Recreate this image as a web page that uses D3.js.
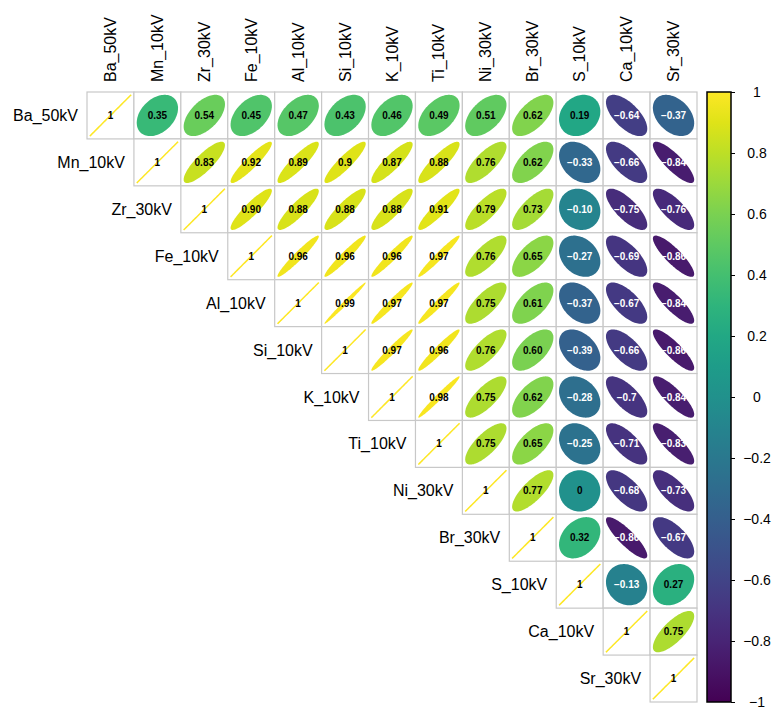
<!DOCTYPE html>
<html>
<head>
<meta charset="utf-8">
<script src="https://cdn.jsdelivr.net/npm/d3@7/dist/d3.min.js"></script>
<style>
  html, body { margin: 0; padding: 0; background: #ffffff; }
  svg { display: block; font-family: "Liberation Sans", Arial, sans-serif; }
</style>
</head>
<body>
<svg id="chart" width="772" height="707"></svg>
<script>
// Variables (rows and columns of the correlation matrix)
const variables = ["Ba_50kV", "Mn_10kV", "Zr_30kV", "Fe_10kV", "Al_10kV", "Si_10kV",
  "K_10kV", "Ti_10kV", "Ni_30kV", "Br_30kV", "S_10kV", "Ca_10kV", "Sr_30kV"];

// Upper-triangle correlations, one array per row, starting at the diagonal
const rowBa = ["1", "0.35", "0.54", "0.45", "0.47", "0.43", "0.46", "0.49", "0.51", "0.62", "0.19", "-0.64", "-0.37"];
const rowMn = ["1", "0.83", "0.92", "0.89", "0.9", "0.87", "0.88", "0.76", "0.62", "-0.33", "-0.66", "-0.84"];
const rowZr = ["1", "0.90", "0.88", "0.88", "0.88", "0.91", "0.79", "0.73", "-0.10", "-0.75", "-0.76"];
const rowFe = ["1", "0.96", "0.96", "0.96", "0.97", "0.76", "0.65", "-0.27", "-0.69", "-0.86"];
const rowAl = ["1", "0.99", "0.97", "0.97", "0.75", "0.61", "-0.37", "-0.67", "-0.84"];
const rowSi = ["1", "0.97", "0.96", "0.76", "0.60", "-0.39", "-0.66", "-0.86"];
const rowK  = ["1", "0.98", "0.75", "0.62", "-0.28", "-0.7", "-0.84"];
const rowTi = ["1", "0.75", "0.65", "-0.25", "-0.71", "-0.83"];
const rowNi = ["1", "0.77", "0", "-0.68", "-0.73"];
const rowBr = ["1", "0.32", "-0.86", "-0.67"];
const rowS  = ["1", "-0.13", "0.27"];
const rowCa = ["1", "0.75"];
const rowSr = ["1"];
const rows = [rowBa, rowMn, rowZr, rowFe, rowAl, rowSi, rowK, rowTi, rowNi, rowBr, rowS, rowCa, rowSr];

// Colour bar ticks
const colorTicks = [1, 0.8, 0.6, 0.4, 0.2, 0, -0.2, -0.4, -0.6, -0.8, -1];

// Flatten into cells
const cells = [];
rows.forEach((row, i) => {
  row.forEach((label, k) => {
    const j = i + k;
    cells.push({ row: variables[i], col: variables[j], i, j, label, r: +label });
  });
});

const svg = d3.select("#chart");

const x = d3.scaleBand().domain(variables).range([87, 697]);
const y = d3.scaleBand().domain(variables).range([92, 702]);
const color = d3.scaleSequential(d3.interpolateViridis).domain([-1, 1]);
const minus = s => s.replace("-", "\u2212");

// Ellipse outline for a correlation r (corrplot style)
function ellipsePath(r, cx, cy, s) {
  const d = Math.acos(Math.max(-1, Math.min(1, r)));
  const pts = d3.range(0, 101).map(k => {
    const t = (k / 100) * 2 * Math.PI;
    return [cx + s * Math.cos(t + d / 2), cy - s * Math.cos(t - d / 2)];
  });
  return d3.line()(pts) + "Z";
}

const bw = x.bandwidth();
const s = bw * 0.44;

// Cell frames
svg.append("g").selectAll("rect")
  .data(cells)
  .join("rect")
  .attr("x", d => x(d.col))
  .attr("y", d => y(d.row))
  .attr("width", bw)
  .attr("height", bw)
  .attr("fill", "#ffffff")
  .attr("stroke", "#c8c8c8")
  .attr("stroke-width", 1.2);

// Ellipses
const marks = svg.append("g");
marks.selectAll("path")
  .data(cells)
  .join("path")
  .attr("d", d => ellipsePath(d.r, x(d.col) + bw / 2, y(d.row) + bw / 2, s))
  .attr("fill", d => d.i === d.j ? "none" : color(d.r))
  .attr("stroke", d => d.i === d.j ? color(d.r) : "none")
  .attr("stroke-width", 1.5);

// Value labels
svg.append("g").selectAll("text")
  .data(cells)
  .join("text")
  .attr("x", d => x(d.col) + bw / 2)
  .attr("y", d => y(d.row) + bw / 2)
  .attr("text-anchor", "middle")
  .attr("dominant-baseline", "central")
  .attr("font-size", 10)
  .attr("font-weight", "bold")
  .attr("fill", d => d.r < 0 ? "#ffffff" : "#000000")
  .text(d => minus(d.label));

// Column labels (rotated)
svg.append("g").selectAll("text")
  .data(variables)
  .join("text")
  .attr("transform", d => `translate(${x(d) + bw / 2},82) rotate(-90)`)
  .attr("text-anchor", "start")
  .attr("dominant-baseline", "central")
  .attr("font-size", 16)
  .attr("fill", "#000")
  .text(d => d);

// Row labels, placed left of the diagonal cell
svg.append("g").selectAll("text")
  .data(variables)
  .join("text")
  .attr("x", d => x(d) - 9)
  .attr("y", d => y(d) + bw / 2)
  .attr("text-anchor", "end")
  .attr("dominant-baseline", "central")
  .attr("font-size", 16)
  .attr("fill", "#000")
  .text(d => d);

// Colour bar
const cbX = 707, cbW = 24;
const cbScale = d3.scaleLinear().domain([-1, 1]).range([702, 92]);
const defs = svg.append("defs");
const grad = defs.append("linearGradient")
  .attr("id", "cbgrad")
  .attr("x1", 0).attr("y1", 1).attr("x2", 0).attr("y2", 0);
d3.range(0, 21).forEach(k => {
  grad.append("stop")
    .attr("offset", k / 20)
    .attr("stop-color", d3.interpolateViridis(k / 20));
});
svg.append("rect")
  .attr("x", cbX)
  .attr("y", cbScale(1))
  .attr("width", cbW)
  .attr("height", cbScale(-1) - cbScale(1))
  .attr("fill", "url(#cbgrad)")
  .attr("stroke", "#000")
  .attr("stroke-width", 1.5);

const cbAxis = svg.append("g")
  .attr("transform", `translate(${cbX + cbW},0)`)
  .call(d3.axisRight(cbScale)
    .tickValues(colorTicks)
    .tickSize(4)
    .tickFormat(v => (v < 0 ? "\u2212" : "") + Math.abs(v)));
cbAxis.select(".domain").remove();
cbAxis.selectAll(".tick line").attr("stroke", "#000").attr("stroke-width", 1);
cbAxis.selectAll(".tick text")
  .attr("x", 26)
  .attr("text-anchor", "middle")
  .attr("font-size", 14)
  .attr("font-family", "Liberation Sans, Arial, sans-serif")
  .attr("fill", "#000");
</script>
</body>
</html>
